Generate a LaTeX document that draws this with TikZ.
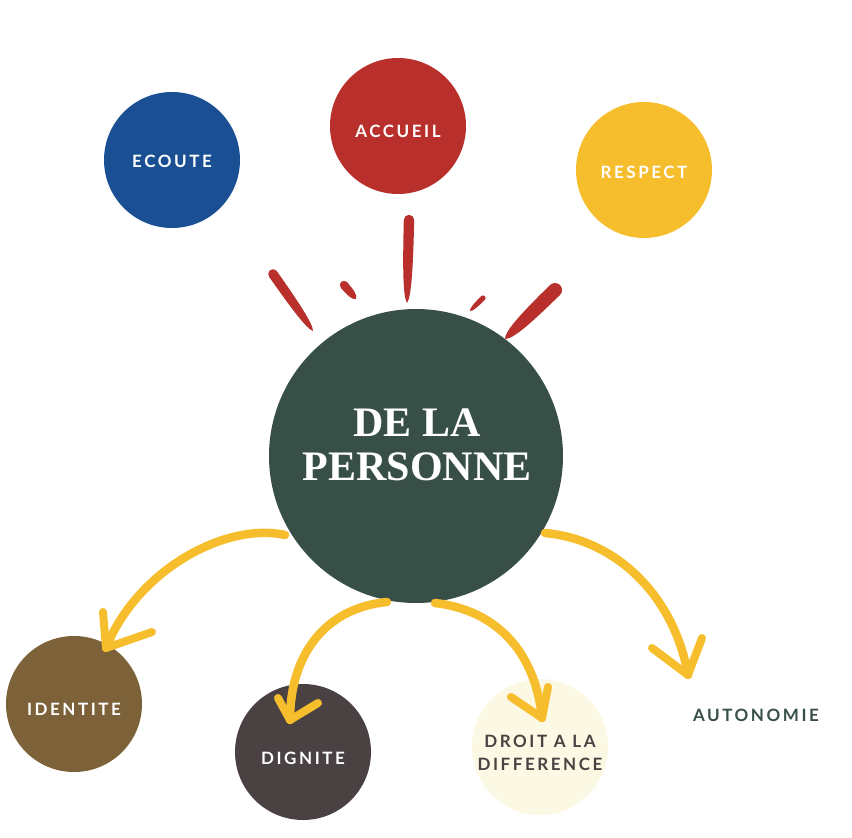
\documentclass[tikz,border=0pt]{standalone}
\usepackage{fontspec}
\usetikzlibrary{calc}
\newfontfamily\latof[LetterSpace=15]{Lato}
\newfontfamily\titlef{Liberation Serif}
\definecolor{cblue}{HTML}{1B4F93}
\definecolor{cred}{HTML}{B82F2B}
\definecolor{cyellow}{HTML}{F6BE2D}
\definecolor{cgreen}{HTML}{384F48}
\definecolor{cbrown}{HTML}{7C6139}
\definecolor{cdark}{HTML}{4A4143}
\definecolor{ccream}{HTML}{FBF8E4}
\newcommand\raystroke[3]{%
  \pgfmathsetmacro\rh{#3*0.85}%
  \coordinate (ra) at #1; \coordinate (rb) at #2;
  \coordinate (rm) at ($(ra)!0.55!(rb)$);
  \coordinate (rn) at ($(ra)!0.92!(rb)$);
  \fill[cred] ($(ra)!#3pt!90:(rb)$) .. controls ($(rm)!#3pt!90:(rb)$) and ($(rn)!\rh pt!90:(rb)$) .. (rb)
     .. controls ($(rn)!\rh pt!-90:(rb)$) and ($(rm)!#3pt!-90:(rb)$) .. ($(ra)!#3pt!-90:(rb)$) -- cycle;
  \fill[cred] (ra) circle (#3pt);}
\tikzset{
  bubble/.style={circle, minimum size=136pt, inner sep=0pt, text=white, align=center,
    font=\latof\bfseries\fontsize{17}{23}\selectfont},
  yarrow/.style={draw=cyellow, line width=8.5pt, line cap=round},
  barb/.style={draw=cyellow, line width=8pt, line cap=round},
}
\begin{document}
\begin{tikzpicture}[x=1pt,y=-1pt]
\useasboundingbox (0,0) rectangle (852,838);
% top bubbles
\node[bubble, fill=cblue] (ecoute) at (172,160) {};
\node[bubble, fill=cred] (accueil) at (398,126) {};
\node[bubble, fill=cyellow] (respect) at (644,170) {};
\node[bubble, text depth=0pt] (ecoutet) at (172,161) {ECOUTE};
\node[bubble, text depth=0pt] (accueilt) at (398,131) {ACCUEIL};
\node[bubble, text depth=0pt] (respectt) at (644,172) {RESPECT};
% red rays
\raystroke{(273,274)}{(313,331)}{4.8}
\raystroke{(344,285)}{(356,299)}{4.2}
\raystroke{(409,220)}{(407,303)}{5.2}
\raystroke{(483,298)}{(470,311)}{2.6}
\raystroke{(555,290)}{(505,339)}{7}
% centre
\node[circle, fill=cgreen, minimum size=294pt, inner sep=0pt] (centre) at (416,456) {};
\node[text=white, align=center, font=\titlef\bfseries\fontsize{42}{44}\selectfont] (ctext) at (417,445) {DE LA\\PERSONNE};
% bottom bubbles
\node[bubble, fill=cbrown] (identite) at (74,704) {};
\node[bubble, fill=cdark] (dignite) at (303,752) {};
\node[bubble, fill=ccream] (droit) at (540,747) {};
\node[bubble, text depth=0pt] (identitet) at (74,709) {IDENTITE};
\node[bubble, text depth=0pt] (dignitet) at (303,758) {DIGNITE};
\node[bubble, text=cdark, text depth=0pt] (droitt) at (540,753) {DROIT A LA\\DIFFERENCE};
\node[font=\latof\bfseries\fontsize{17}{23}\selectfont, text=cgreen, text depth=0pt] (autonomie) at (756,715) {AUTONOMIE};
% arrow coordinates
\coordinate (s1) at (285,535); \coordinate (t1) at (106,648);
\coordinate (s2) at (387,602); \coordinate (t2) at (290,720);
\coordinate (s3) at (435,603); \coordinate (t3) at (542,718);
\coordinate (s4) at (545,533); \coordinate (t4) at (688,675);
\coordinate (b1a) at (103,612); \coordinate (b1b) at (152,632);
\coordinate (b2a) at (278,698); \coordinate (b2b) at (318,703);
\coordinate (b3a) at (511,697); \coordinate (b3b) at (548,687);
\coordinate (b4a) at (652,648); \coordinate (b4b) at (702,638);
% arrows
\draw[yarrow] (s1) .. controls (228,522) and (138,568) .. (t1);
\draw[barb] (t1) -- (b1a); \draw[barb] (t1) -- (b1b);
\draw[yarrow] (s2) .. controls (325,608) and (290,655) .. (t2);
\draw[barb] (t2) -- (b2a); \draw[barb] (t2) -- (b2b);
\draw[yarrow] (s3) .. controls (495,610) and (535,650) .. (t3);
\draw[barb] (t3) -- (b3a); \draw[barb] (t3) -- (b3b);
\draw[yarrow] (s4) .. controls (620,540) and (675,600) .. (t4);
\draw[barb] (t4) -- (b4a); \draw[barb] (t4) -- (b4b);
\end{tikzpicture}
\end{document}
